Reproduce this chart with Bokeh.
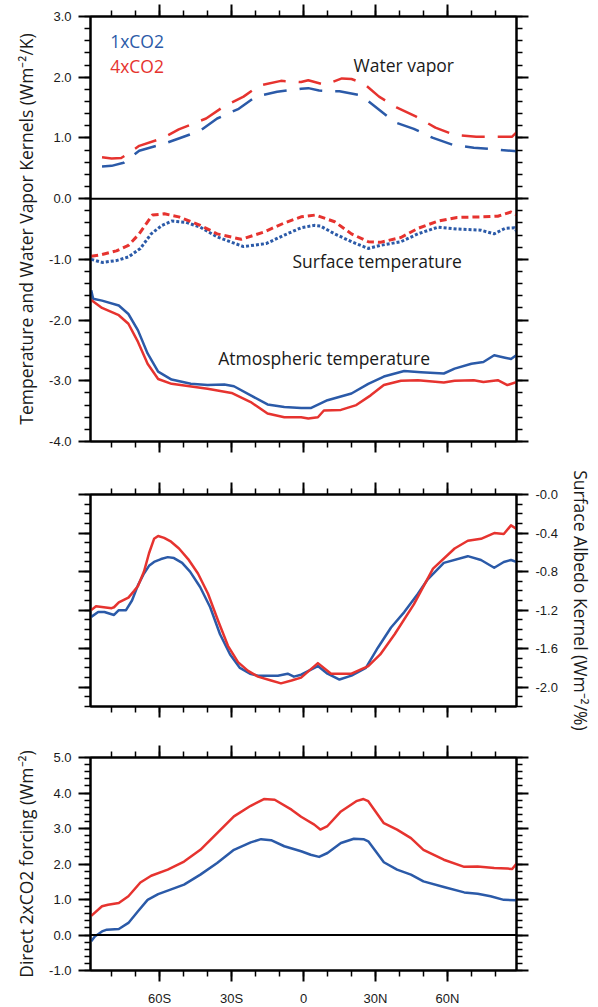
from bokeh.plotting import figure
from bokeh.models import (Range1d, LinearAxis, FixedTicker, PrintfTickFormatter, Span, Label,
                          CustomLabelingPolicy)
from bokeh.layouts import column
from bokeh.embed import file_html
from bokeh.resources import INLINE

BLUE = "#2b5aa8"
RED = "#e6332f"
INK = "#1a1a1a"

# ---------------- data ----------------
# Water vapor kernel (1xCO2, 4xCO2)
wv_lat_1x = [-84, -80, -75, -68.5, -58.5, -52, -43, -36, -27, -20, -11, -1, 2, 6.5, 12, 15, 24, 31, 38, 46, 54, 62, 71, 80, 89]
wv_1x = [0.53, 0.54, 0.59, 0.79, 0.90, 0.99, 1.12, 1.32, 1.48, 1.68, 1.76, 1.81, 1.82, 1.78, 1.77, 1.77, 1.70, 1.48, 1.26, 1.15, 1.00, 0.89, 0.84, 0.81, 0.78]
wv_lat_4x = [-84, -80, -76, -74, -68.5, -58.5, -52, -40.6, -33.5, -25, -18.5, -9.4, -1, 2, 8.5, 12, 16, 20, 25, 31.5, 39, 47, 55, 63, 72, 80, 87, 89]
wv_4x = [0.68, 0.66, 0.67, 0.72, 0.87, 1.00, 1.14, 1.32, 1.51, 1.68, 1.86, 1.94, 1.92, 1.95, 1.88, 1.92, 1.98, 1.97, 1.90, 1.68, 1.50, 1.35, 1.17, 1.05, 1.02, 1.02, 1.02, 1.10]

# Surface temperature kernel
ts_lat_1x = [-88.5, -84, -78, -73, -68, -63.5, -59, -55, -49, -43, -36, -25, -15.6, -8, -1, 4.5, 7, 13, 20, 27, 32, 40.6, 47.7, 56, 64, 74, 79.5, 84, 88, 89]
ts_1x = [-1.00, -1.05, -1.02, -0.96, -0.82, -0.58, -0.44, -0.37, -0.39, -0.47, -0.63, -0.79, -0.74, -0.60, -0.48, -0.44, -0.45, -0.58, -0.71, -0.82, -0.77, -0.71, -0.58, -0.47, -0.50, -0.52, -0.58, -0.49, -0.48, -0.55]
ts_lat_4x = [-88.5, -84, -78, -73, -68.5, -63, -58, -52, -43, -36, -26, -16.5, -8, -1, 5, 13, 20, 27, 32, 40.6, 47.7, 56, 64, 74, 81, 86.5, 89]
ts_4x = [-0.95, -0.92, -0.86, -0.77, -0.58, -0.27, -0.25, -0.30, -0.44, -0.58, -0.67, -0.55, -0.40, -0.30, -0.27, -0.38, -0.58, -0.71, -0.72, -0.64, -0.49, -0.37, -0.31, -0.30, -0.29, -0.22, -0.27]

# Atmospheric temperature kernel
ta_lat_1x = [-88.5, -87.7, -84, -77, -73, -69, -65, -60.6, -55, -47, -40, -33, -29, -22, -15, -8, -1, 3, 10, 20, 27, 33.5, 42, 49, 58.5, 63, 70, 75, 79.5, 84, 86.5, 89]
ta_1x = [-1.51, -1.65, -1.68, -1.76, -1.90, -2.17, -2.55, -2.85, -2.98, -3.05, -3.07, -3.06, -3.09, -3.24, -3.39, -3.43, -3.45, -3.45, -3.32, -3.21, -3.05, -2.93, -2.84, -2.86, -2.88, -2.80, -2.72, -2.69, -2.58, -2.62, -2.64, -2.57]
ta_lat_4x = [-88.5, -84, -77, -73, -69, -65, -60.6, -55, -40, -30, -22, -15, -8, -1, 2, 6, 8.5, 15.6, 22, 28, 33.5, 40.6, 47.7, 58.5, 63, 71, 75, 81, 85, 89]
ta_4x = [-1.67, -1.80, -1.92, -2.06, -2.36, -2.72, -2.97, -3.05, -3.13, -3.20, -3.35, -3.54, -3.60, -3.60, -3.62, -3.60, -3.49, -3.48, -3.40, -3.24, -3.07, -3.00, -2.99, -3.03, -3.00, -2.99, -3.02, -2.99, -3.07, -3.02]

# Surface albedo kernel
al_lat_1x = [-88.5, -85.6, -83, -79, -77, -74, -71.5, -69, -66.5, -64.4, -62.3, -59.4, -56.6, -54, -50.6, -47.3, -43.1, -38.9, -34.8, -30.6, -26.5, -22.3, -19, -10.7, -6.6, -4, -1, 6, 10, 15, 20, 26, 31, 36.5, 42, 47.7, 51.8, 58.5, 68.5, 74, 79.5, 83.5, 86.5, 89]
al_1x = [-1.27, -1.22, -1.22, -1.25, -1.20, -1.20, -1.10, -0.94, -0.82, -0.74, -0.70, -0.67, -0.65, -0.66, -0.71, -0.80, -0.96, -1.17, -1.45, -1.66, -1.80, -1.86, -1.88, -1.88, -1.86, -1.89, -1.87, -1.78, -1.86, -1.92, -1.88, -1.80, -1.59, -1.38, -1.22, -1.03, -0.88, -0.71, -0.64, -0.68, -0.76, -0.70, -0.68, -0.70]
al_lat_4x = [-88.5, -86.5, -80, -79, -77, -73, -70.6, -69, -66.5, -64.4, -62.3, -60.6, -58.1, -55.2, -51.9, -48.1, -44, -39.8, -35.6, -31.5, -27.3, -23.1, -19, -13.5, -9.4, -5, -1, 6, 11.5, 20, 27, 32, 38, 46, 54, 63, 68.5, 74, 79.5, 83.5, 86.5, 89]
al_4x = [-1.20, -1.16, -1.18, -1.17, -1.12, -1.07, -1.00, -0.95, -0.80, -0.61, -0.46, -0.43, -0.45, -0.49, -0.56, -0.67, -0.82, -1.03, -1.31, -1.57, -1.74, -1.83, -1.89, -1.93, -1.96, -1.93, -1.90, -1.75, -1.86, -1.86, -1.78, -1.66, -1.45, -1.14, -0.77, -0.56, -0.48, -0.46, -0.40, -0.41, -0.32, -0.36]

# Direct 2xCO2 forcing
fc_lat_1x = [-88.5, -87, -84, -82, -77, -73, -69, -65, -60.6, -56.6, -49.8, -43, -36, -29, -22, -17.7, -13.5, -8, -1, 3, 6.5, 10, 15.6, 21, 25, 27, 33.5, 39, 44.8, 50, 58.5, 67, 72.6, 78, 83.5, 89]
fc_1x = [-0.18, -0.04, 0.10, 0.15, 0.17, 0.34, 0.67, 0.99, 1.15, 1.25, 1.42, 1.70, 2.03, 2.40, 2.61, 2.70, 2.67, 2.50, 2.36, 2.26, 2.20, 2.31, 2.59, 2.71, 2.70, 2.64, 2.05, 1.84, 1.70, 1.51, 1.35, 1.20, 1.16, 1.09, 0.99, 0.98]
fc_lat_4x = [-88.5, -84, -81.5, -77, -73, -68, -63.5, -56.6, -49.8, -43, -36, -29, -22, -16.5, -12, -5, -1, 4.5, 7, 10, 15.6, 22, 25, 27, 33.5, 39, 44.8, 50, 58.5, 67, 72.6, 79.5, 85, 87, 89]
fc_4x = [0.54, 0.81, 0.85, 0.90, 1.09, 1.48, 1.67, 1.84, 2.07, 2.40, 2.87, 3.34, 3.64, 3.83, 3.81, 3.53, 3.33, 3.11, 2.97, 3.07, 3.48, 3.77, 3.83, 3.77, 3.15, 2.97, 2.73, 2.40, 2.12, 1.92, 1.93, 1.89, 1.87, 1.86, 2.03]

# ticks
lat_ticks = [-60, -30, 0, 30, 60]
lat_tick_labels = ["60S", "30S", "0", "30N", "60N"]
lat_minor = [-80, -70, -60, -50, -40, -30, -20, -10, 0, 10, 20, 30, 40, 50, 60, 70, 80]
top_ticks = [-4, -3, -2, -1, 0, 1, 2, 3]
top_minor = [round(-4 + 0.2 * i, 1) for i in range(36)]
alb_ticks = [-2.0, -1.6, -1.2, -0.8, -0.4, 0.0]
alb_minor = [round(-2.2 + 0.1 * i, 1) for i in range(23)]
frc_ticks = [-1, 0, 1, 2, 3, 4, 5]
frc_minor = [round(-1 + 0.2 * i, 1) for i in range(31)]

X_RANGE = (-88.8, 88.8)
TICK_FONT = "Liberation Sans"
TITLE_FONT = "Open Sans"
HIDE_LABELS = "for (const i of indices) { indices.unset(i) }\nreturn indices"


def make_fig(y0, y1, frame_h, top, bottom):
    p = figure(frame_width=426, frame_height=frame_h,
               x_range=Range1d(*X_RANGE), y_range=Range1d(y0, y1),
               x_axis_location=None, y_axis_location=None,
               toolbar_location=None, output_backend="svg",
               min_border_left=90, min_border_right=82,
               min_border_top=top, min_border_bottom=bottom)
    p.grid.visible = False
    p.outline_line_color = "black"
    p.outline_line_width = 2
    return p


def style_axis(ax, major_out, minor_out, show_labels):
    ax.axis_line_width = 2
    ax.axis_line_color = "black"
    ax.major_tick_line_width = 2
    ax.minor_tick_line_width = 1.5
    ax.major_tick_in = 0
    ax.minor_tick_in = 0
    ax.major_tick_out = major_out
    ax.minor_tick_out = minor_out
    if show_labels:
        ax.major_label_text_font = TICK_FONT
        ax.major_label_text_font_size = "13px"
        ax.major_label_text_color = INK
    else:
        ax.major_label_text_font_size = "1px"
        ax.major_label_standoff = 0
        ax.major_label_policy = CustomLabelingPolicy(code=HIDE_LABELS)
    ax.axis_label_text_font = TITLE_FONT
    ax.axis_label_text_font_style = "normal"
    ax.axis_label_text_font_size = "17.5px"
    ax.axis_label_text_color = INK


def add_x_axes(p, bottom_labels=False):
    for side in ("above", "below"):
        ax = LinearAxis(ticker=FixedTicker(ticks=lat_ticks, minor_ticks=lat_minor))
        show = bottom_labels and side == "below"
        style_axis(ax, 11 if side == "below" else 12, 6, show)
        if show:
            ax.major_label_overrides = dict(zip(lat_ticks, lat_tick_labels))
            ax.major_label_standoff = 9
        p.add_layout(ax, side)


def add_y_axes(p, ticks, minor, label_side, title):
    labelled = None
    for side in ("left", "right"):
        ax = LinearAxis(ticker=FixedTicker(ticks=ticks, minor_ticks=minor),
                        formatter=PrintfTickFormatter(format="%.1f"))
        show = side == label_side
        style_axis(ax, 12, 6, show)
        if show:
            ax.major_label_standoff = 7
            ax.axis_label = title
            ax.axis_label_standoff = 8
            labelled = ax
        p.add_layout(ax, side)
    return labelled


def draw(p, xs, ys, color, width=2.5, dash="solid"):
    p.line(xs, ys, line_color=color, line_width=width, line_dash=dash, line_join="round")


# ---------------- panel 1: temperature & water vapor kernels ----------------
p1 = make_fig(-4, 3, 425, 13, 26)
add_x_axes(p1)
add_y_axes(p1, top_ticks, top_minor, "left", "Temperature and Water Vapor Kernels (Wm\u207b\u00b2/K)")
p1.add_layout(Span(location=0, dimension="width", line_color="black", line_width=2))

draw(p1, wv_lat_1x, wv_1x, BLUE, 2.5, "23 13")
draw(p1, wv_lat_4x, wv_4x, RED, 2.5, "23 13")
draw(p1, ts_lat_1x, ts_1x, BLUE, 3, "3 2")
draw(p1, ts_lat_4x, ts_4x, RED, 3, "7 4")
draw(p1, ta_lat_1x, ta_1x, BLUE)
draw(p1, ta_lat_4x, ta_4x, RED)

for txt, x, y, col, align in [
    ("1xCO2", -80.6, 2.59, BLUE, "left"),
    ("4xCO2", -80.6, 2.19, RED, "left"),
    ("Water vapor", 41.8, 2.20, INK, "center"),
    ("Surface temperature", 30.7, -1.02, INK, "center"),
    ("Atmospheric temperature", 8.6, -2.62, INK, "center"),
]:
    p1.add_layout(Label(x=x, y=y, text=txt, text_color=col, text_font=TITLE_FONT,
                        text_font_size="17.5px", text_align=align, text_baseline="middle"))

# ---------------- panel 2: surface albedo kernel ----------------
p2 = make_fig(-2.2, 0.0, 212, 27, 25)
add_x_axes(p2)
ax2 = add_y_axes(p2, alb_ticks, alb_minor, "right", "Surface Albedo Kernel (Wm\u207b\u00b2/%)")
ax2.major_label_overrides = {0: "-0.0"}
draw(p2, al_lat_1x, al_1x, BLUE)
draw(p2, al_lat_4x, al_4x, RED)

# ---------------- panel 3: direct forcing ----------------
p3 = make_fig(-1, 5, 213, 26, 38)
add_x_axes(p3, bottom_labels=True)
add_y_axes(p3, frc_ticks, frc_minor, "left", "Direct 2xCO2 forcing (Wm\u207b\u00b2)")
p3.add_layout(Span(location=0, dimension="width", line_color="black", line_width=2))
draw(p3, fc_lat_1x, fc_1x, BLUE)
draw(p3, fc_lat_4x, fc_4x, RED)

layout = column(p1, p2, p3)

open("out.html", "w").write(file_html(layout, INLINE))
